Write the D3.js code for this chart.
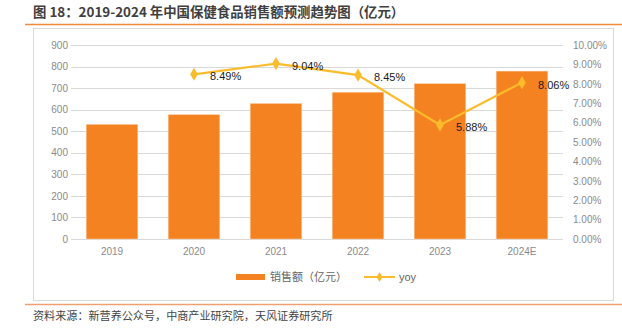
<!DOCTYPE html>
<html>
<head>
<meta charset="utf-8">
<script src="https://cdn.jsdelivr.net/npm/d3@7"></script>
<style>
  body { margin: 0; background: #fff; }
  svg { display: block; font-family: "Liberation Sans", "Noto Sans CJK SC", sans-serif; }
</style>
</head>
<body>
<div id="container"><svg></svg></div>
<script>
// 数据
const years = ["2019", "2020", "2021", "2022", "2023", "2024E"];
const sales = [532, 577, 629, 681, 721, 779];
const yoy = [null, 8.49, 9.04, 8.45, 5.88, 8.06];
const leftTicks = [0, 100, 200, 300, 400, 500, 600, 700, 800, 900];
const rightTicks = [0, 1, 2, 3, 4, 5, 6, 7, 8, 9, 10];

const width = 622, height = 329;
const barColor = "#F58220";
const lineColor = "#FBBC2C";
const cjk = '"Noto Sans CJK SC", sans-serif';

let svg = d3.select('#container').select('svg')
    .attr('width', width)
    .attr('height', height);

// 标题
svg.append("text")
    .attr("x", 33).attr("y", 17)
    .attr("font-family", cjk)
    .attr("font-size", 13.4)
    .attr("font-weight", "bold")
    .attr("fill", "#404040")
    .text("图 18：2019-2024 年中国保健食品销售额预测趋势图（亿元）");

svg.append("line")
    .attr("x1", 25).attr("x2", 622).attr("y1", 24.5).attr("y2", 24.5)
    .attr("stroke", "#F08A3C").attr("stroke-width", 1.5);

// 外框
svg.append("rect")
    .attr("x", 33.5).attr("y", 28.5).attr("width", 580).attr("height", 272)
    .attr("fill", "none").attr("stroke", "#d9d9d9");

svg.append("line")
    .attr("x1", 25).attr("x2", 622).attr("y1", 304.5).attr("y2", 304.5)
    .attr("stroke", "#F0A070").attr("stroke-width", 1.5);

svg.append("text")
    .attr("x", 33).attr("y", 320)
    .attr("font-family", cjk)
    .attr("font-size", 11.1)
    .attr("fill", "#444")
    .text("资料来源：新营养公众号，中商产业研究院，天风证券研究所");

// 比例尺
let x = d3.scaleBand().domain(years).range([71, 563]).paddingInner(0.37).paddingOuter(0.185);
let yL = d3.scaleLinear().domain([0, 900]).range([239, 45]);
let yR = d3.scaleLinear().domain([0, 10]).range([239, 45]);

// 网格线
svg.append("g")
    .selectAll("line")
    .data(leftTicks)
    .join("line")
    .attr("x1", 71).attr("x2", 563)
    .attr("y1", d => Math.round(yL(d)) + 0.5)
    .attr("y2", d => Math.round(yL(d)) + 0.5)
    .attr("stroke", "#d9d9d9");

// 坐标轴
let axL = svg.append("g")
    .attr("transform", "translate(68,0)")
    .call(d3.axisLeft(yL).tickValues(leftTicks).tickSize(0).tickPadding(0));
let axR = svg.append("g")
    .attr("transform", "translate(573,0)")
    .call(d3.axisRight(yR).tickValues(rightTicks).tickSize(0).tickPadding(0)
        .tickFormat(d => d.toFixed(2) + "%"));
let axB = svg.append("g")
    .attr("transform", "translate(0,246)")
    .call(d3.axisBottom(x).tickSize(0).tickPadding(0));
[axL, axR, axB].forEach(a => {
    a.select(".domain").remove();
    a.selectAll("text")
        .attr("fill", "#8a8a8a")
        .attr("font-size", 10)
        .attr("font-family", "Liberation Sans, sans-serif");
});
axB.selectAll("text").attr("dy", "0.9em");

// 柱子
svg.append("g")
    .selectAll("rect")
    .data(years)
    .join("rect")
    .attr("x", d => x(d))
    .attr("width", x.bandwidth())
    .attr("y", (d, i) => yL(sales[i]))
    .attr("height", (d, i) => yL(0) - yL(sales[i]))
    .attr("fill", barColor)
    .attr("stroke", "#fbd6b6")
    .attr("stroke-width", 0.5);

// 折线
let pts = years.map((d, i) => ({ year: d, v: yoy[i] })).filter(d => d.v != null);
let line = d3.line()
    .x(d => x(d.year) + x.bandwidth() / 2)
    .y(d => yR(d.v));

svg.append("path")
    .datum(pts)
    .attr("d", line)
    .attr("fill", "none")
    .attr("stroke", lineColor)
    .attr("stroke-width", 2.2);

svg.append("g")
    .selectAll("path")
    .data(pts)
    .join("path")
    .attr("d", d3.symbol(d3.symbolDiamond, 50))
    .attr("transform", d => `translate(${x(d.year) + x.bandwidth() / 2},${yR(d.v)})`)
    .attr("fill", lineColor);

svg.append("g")
    .selectAll("text")
    .data(pts)
    .join("text")
    .attr("x", d => x(d.year) + x.bandwidth() / 2 + 16)
    .attr("y", d => yR(d.v) + 6)
    .attr("font-size", 11)
    .attr("fill", "#1a1a1a")
    .text(d => d.v.toFixed(2) + "%");

// 图例
let lg = svg.append("g");
lg.append("rect")
    .attr("x", 236).attr("y", 274).attr("width", 29).attr("height", 6)
    .attr("fill", barColor);
lg.append("text")
    .attr("x", 270).attr("y", 281)
    .attr("font-family", cjk)
    .attr("font-size", 11)
    .attr("fill", "#666")
    .text("销售额（亿元）");
lg.append("line")
    .attr("x1", 364).attr("x2", 395).attr("y1", 277).attr("y2", 277)
    .attr("stroke", lineColor).attr("stroke-width", 2);
lg.append("path")
    .attr("d", d3.symbol(d3.symbolDiamond, 30))
    .attr("transform", "translate(379.5,277)")
    .attr("fill", lineColor);
lg.append("text")
    .attr("x", 399).attr("y", 281)
    .attr("font-size", 11)
    .attr("fill", "#666")
    .text("yoy");
</script>
</body>
</html>
